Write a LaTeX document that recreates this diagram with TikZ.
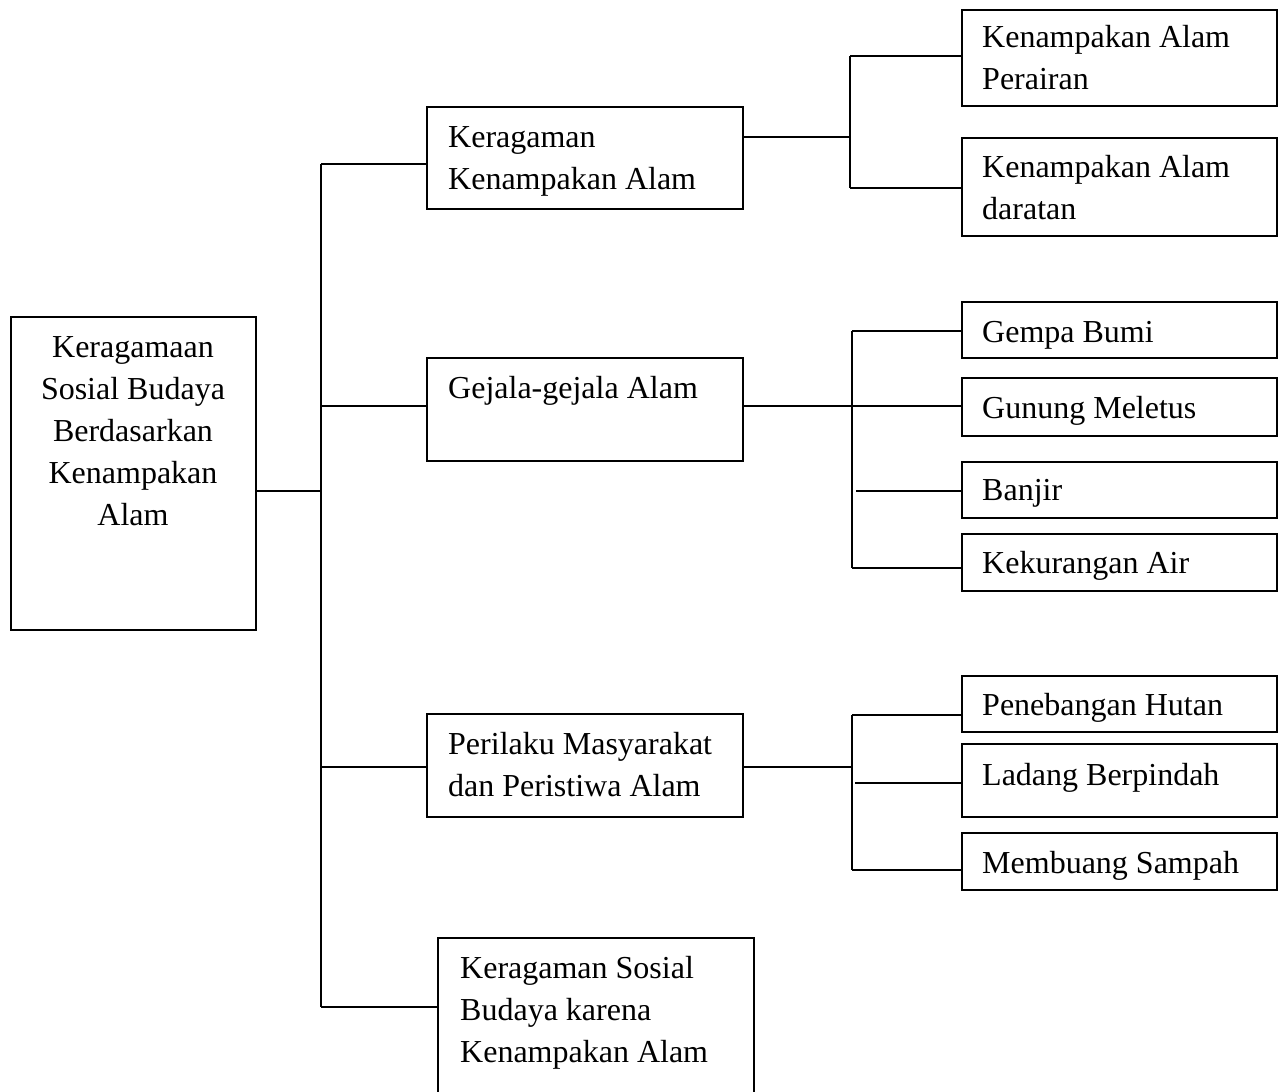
\documentclass[tikz,border=0pt]{standalone}
\usepackage{fontspec}
\setmainfont{Liberation Serif}
\newcommand\Lcol[1]{\vtop{\halign{##\hfil\cr#1\crcr}}}
\newcommand\Ccol[1]{\vtop{\halign{\hfil##\hfil\cr#1\crcr}}}
\begin{document}
\begin{tikzpicture}[x=1pt,y=-1pt,
  box/.style={draw=black, line width=1.8pt, rectangle, inner sep=0pt},
  txt/.style={inner sep=0pt, font=\fontsize{32}{42}\selectfont},
  conn/.style={draw=black, line width=1.8pt}]
\useasboundingbox (0,0) rectangle (1278,1092);
\clip (0,0) rectangle (1278,1092);
\fill[white] (0,0) rectangle (1278,1092);
% boxes
\node[box, minimum width=245, minimum height=313] (root) at (133.5,473.5) {};
\node[box, minimum width=316, minimum height=102] (A) at (585,158) {};
\node[box, minimum width=316, minimum height=103] (B) at (585,409.5) {};
\node[box, minimum width=316, minimum height=103] (C) at (585,765.5) {};
\node[box, minimum width=316, minimum height=162] (D) at (596,1019) {};
\node[box, minimum width=315, minimum height=96] (A1) at (1119.5,58) {};
\node[box, minimum width=315, minimum height=98] (A2) at (1119.5,187) {};
\node[box, minimum width=315, minimum height=56] (B1) at (1119.5,330) {};
\node[box, minimum width=315, minimum height=58] (B2) at (1119.5,407) {};
\node[box, minimum width=315, minimum height=56] (B3) at (1119.5,490) {};
\node[box, minimum width=315, minimum height=57] (B4) at (1119.5,562.5) {};
\node[box, minimum width=315, minimum height=56] (C1) at (1119.5,704) {};
\node[box, minimum width=315, minimum height=73] (C2) at (1119.5,780.5) {};
\node[box, minimum width=315, minimum height=57] (C3) at (1119.5,861.5) {};
% texts
\node[txt, anchor=base] (troot) at (133,357) {\Ccol{Keragamaan\cr Sosial Budaya\cr Berdasarkan\cr Kenampakan\cr Alam}};
\node[txt, anchor=base west] (tA) at (448,147) {\Lcol{Keragaman\cr Kenampakan Alam}};
\node[txt, anchor=base west] (tB) at (448,398) {Gejala-gejala Alam};
\node[txt, anchor=base west] (tC) at (448,754) {\Lcol{Perilaku Masyarakat\cr dan Peristiwa Alam}};
\node[txt, anchor=base west] (tD) at (460,978) {\Lcol{Keragaman Sosial\cr Budaya karena\cr Kenampakan Alam}};
\node[txt, anchor=base west] (tA1) at (982,47) {\Lcol{Kenampakan Alam\cr Perairan}};
\node[txt, anchor=base west] (tA2) at (982,177) {\Lcol{Kenampakan Alam\cr daratan}};
\node[txt, anchor=base west] (tB1) at (982,342) {Gempa Bumi};
\node[txt, anchor=base west] (tB2) at (982,418) {Gunung Meletus};
\node[txt, anchor=base west] (tB3) at (982,500) {Banjir};
\node[txt, anchor=base west] (tB4) at (982,573) {Kekurangan Air};
\node[txt, anchor=base west] (tC1) at (982,715) {Penebangan Hutan};
\node[txt, anchor=base west] (tC2) at (982,785) {Ladang Berpindah};
\node[txt, anchor=base west] (tC3) at (982,873) {Membuang Sampah};
% junction coordinates
\coordinate (jr) at (321,491);
\coordinate (tTop) at (321,164);
\coordinate (tB) at (321,406);
\coordinate (tC) at (321,767);
\coordinate (tBot) at (321,1007);
\coordinate (jA) at (850,137);
\coordinate (jA1) at (850,56);
\coordinate (jA2) at (850,188);
\coordinate (jB) at (852,406);
\coordinate (jB1) at (852,331);
\coordinate (jB3) at (856,491);
\coordinate (jB4) at (852,568);
\coordinate (jC) at (852,767);
\coordinate (jC1) at (852,715);
\coordinate (jC2) at (855,783);
\coordinate (jC3) at (852,870);
% connectors: root level
\draw[conn] (root.east |- jr) -- (jr);
\draw[conn] (tTop) -- (tBot);
\draw[conn] (tTop) -- (A.west |- tTop);
\draw[conn] (tB) -- (B.west |- tB);
\draw[conn] (tC) -- (C.west |- tC);
\draw[conn] (tBot) -- (D.west |- tBot);
% A branch
\draw[conn] (A.east |- jA) -- (jA);
\draw[conn] (jA1) -- (jA2);
\draw[conn] (jA1) -- (A1.west |- jA1);
\draw[conn] (jA2) -- (A2.west |- jA2);
% B branch
\draw[conn] (B.east |- jB) -- (B2.west |- jB);
\draw[conn] (jB1) -- (jB4);
\draw[conn] (jB1) -- (B1.west |- jB1);
\draw[conn] (jB3) -- (B3.west |- jB3);
\draw[conn] (jB4) -- (B4.west |- jB4);
% C branch
\draw[conn] (C.east |- jC) -- (jC);
\draw[conn] (jC1) -- (jC3);
\draw[conn] (jC1) -- (C1.west |- jC1);
\draw[conn] (jC2) -- (C2.west |- jC2);
\draw[conn] (jC3) -- (C3.west |- jC3);
\end{tikzpicture}
\end{document}
